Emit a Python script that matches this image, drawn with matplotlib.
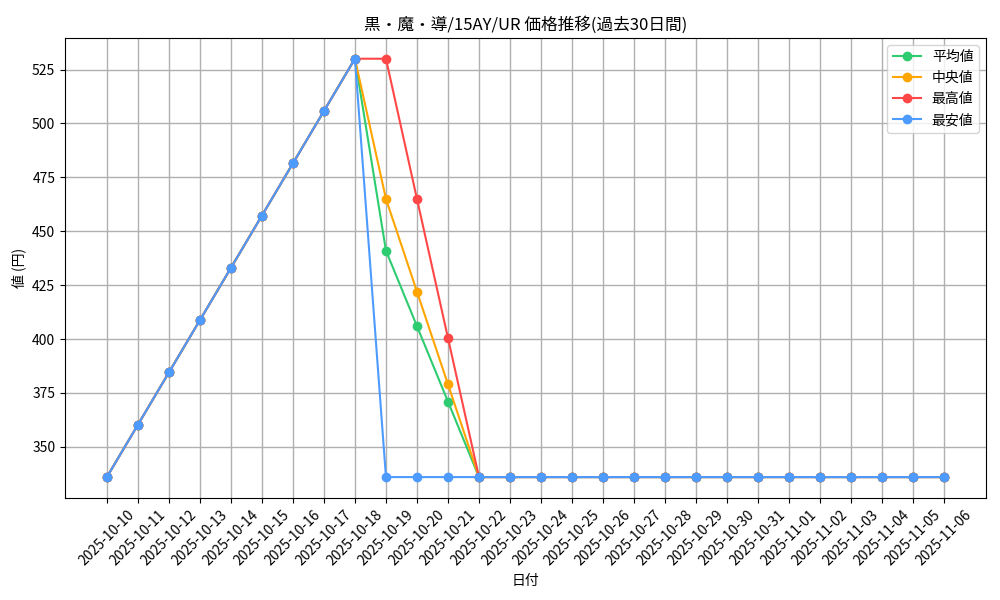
import matplotlib
matplotlib.use("Agg")
import matplotlib.pyplot as plt

plt.rcParams['font.family'] = ['Noto Sans CJK JP', 'DejaVu Sans']

dates = ["2025-10-10", "2025-10-11", "2025-10-12", "2025-10-13", "2025-10-14",
         "2025-10-15", "2025-10-16", "2025-10-17", "2025-10-18", "2025-10-19",
         "2025-10-20", "2025-10-21", "2025-10-22", "2025-10-23", "2025-10-24",
         "2025-10-25", "2025-10-26", "2025-10-27", "2025-10-28", "2025-10-29",
         "2025-10-30", "2025-10-31", "2025-11-01", "2025-11-02", "2025-11-03",
         "2025-11-04", "2025-11-05", "2025-11-06"]

ramp = [336, 360.25, 384.5, 408.75, 433, 457.25, 481.5, 505.75, 530]
flat = [336] * 16

avg_vals = ramp + [441, 406, 371] + flat
median_vals = ramp + [465, 422, 379] + flat
max_vals = ramp + [530, 465, 400.5] + flat
min_vals = ramp + [336, 336, 336] + flat

series = [
    ("平均値", avg_vals, "#2ecc71"),
    ("中央値", median_vals, "#ffa500"),
    ("最高値", max_vals, "#ff4747"),
    ("最安値", min_vals, "#4d9bff"),
]

fig, ax = plt.subplots(figsize=(10, 6), dpi=100)
x = list(range(len(dates)))
for label, vals, color in series:
    ax.plot(x, vals, marker='o', color=color, label=label, linewidth=1.5, markersize=6)

ax.set_xticks(x)
ax.set_xticklabels(dates, rotation=45)
ax.set_title("黒・魔・導/15AY/UR 価格推移(過去30日間)", fontsize=12)
ax.set_xlabel("日付")
ax.set_ylabel("値 (円)")
ax.grid(True, color='#b0b0b0', linewidth=1)
ax.legend(loc='upper right')
fig.subplots_adjust(left=0.065, right=0.986, top=0.937, bottom=0.17)
fig.savefig("out.png")
